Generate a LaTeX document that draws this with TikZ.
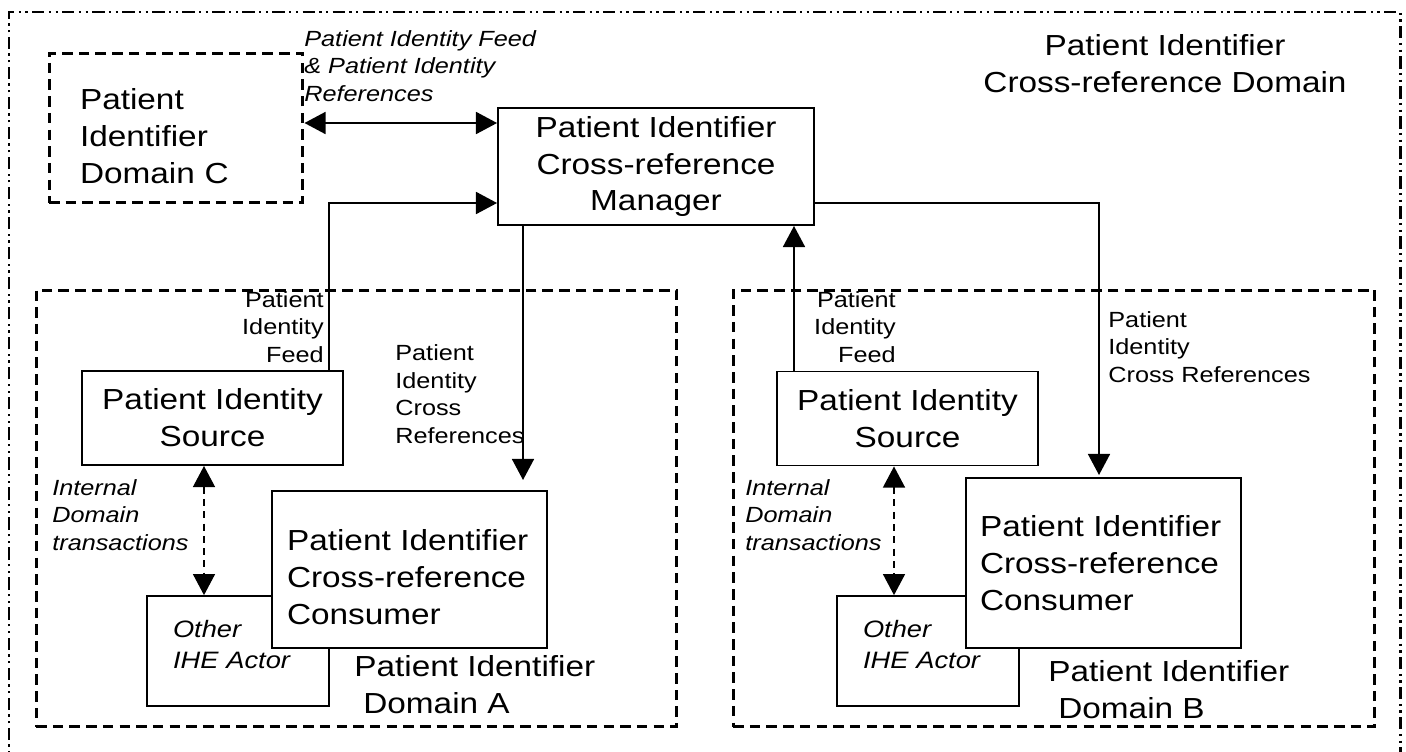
\documentclass[tikz,border=0pt]{standalone}
\usepackage{fontspec}
\setmainfont{Liberation Sans}[FakeStretch=1.15]
\usetikzlibrary{arrows.meta}
\newcommand\bigfont{\fontsize{16.5}{21}\selectfont}
\newcommand\midfont{\fontsize{13.5}{17.6}\selectfont}
\newcommand\smallfont{\fontsize{12.5}{15.6}\selectfont}
\tikzset{%
	box/.style       = {draw, line width=1.1pt, rectangle, fill=white, font=\bigfont, inner sep=0pt},
	actor/.style     = {draw, line width=1pt, rectangle, fill=white, font=\midfont\itshape,
		inner ysep=0pt, inner xsep=0.52cm, text width=2.6cm, align=left, text depth=0.9cm},
	pidbox/.style    = {draw, line width=1.7pt, dash pattern=on 6pt off 3.5pt, rectangle, inner sep=0pt},
	xrefframe/.style = {line width=1.7pt, dash pattern=on 7pt off 2.5pt on 1.3pt off 2.5pt on 1.3pt off 2.5pt},
	txt/.style       = {inner sep=0pt, font=\smallfont},
	conn/.style      = {line width=1.1pt, -{Triangle[length=12pt,width=12.5pt]}},
	twoway/.style    = {line width=1.1pt, {Triangle[length=12pt,width=12.5pt]}-{Triangle[length=12pt,width=12.5pt]}}
}
\begin{document}
\begin{tikzpicture}[x=0.02cm,y=-0.02cm]
	\clip (0,0) rectangle (1406,751);
	\draw[xrefframe] (9,770) -- (9,12) -- (1400,12) -- (1400,770);
	\node[txt, font=\bigfont, align=center, anchor=base] (xreflbl) at (1165,92) {Patient Identifier\\Cross-reference Domain};

	% domains
	\node[pidbox, minimum width=12.82cm, minimum height=8.74cm] (domA) at (356.5,508.5) {};
	\node[pidbox, minimum width=12.84cm, minimum height=8.74cm] (domB) at (1054,508.5) {};
	\node[pidbox, font=\bigfont, minimum width=5.08cm, minimum height=3cm, inner xsep=0.62cm,
		text width=3.84cm, align=left, text height=0.74cm] (domC) at (176,128) {Patient\\Identifier\\Domain C};
	\node[txt, font=\bigfont, align=left, anchor=base west] (domAlbl) at (354,713) {Patient Identifier\\\hspace*{0.18cm}Domain A};
	\node[txt, font=\bigfont, align=left, anchor=base west] (domBlbl) at (1048,718) {Patient Identifier\\\hspace*{0.2cm}Domain B};

	% actors
	\node[box, minimum width=6.32cm, minimum height=2.34cm, align=center] (mgr) at (656,166.5) {Patient Identifier\\Cross-reference\\Manager};
	\node[box, minimum width=5.22cm, minimum height=1.88cm, align=center] (srcA) at (212.5,418) {Patient Identity\\Source};
	\node[box, minimum width=5.22cm, minimum height=1.88cm, align=center] (srcB) at (907.5,418.5) {Patient Identity\\Source};
	\node[actor, minimum width=3.64cm, minimum height=2.2cm] (othA) at (238,651) {Other\\IHE Actor};
	\node[actor, minimum width=3.64cm, minimum height=2.2cm] (othB) at (928,651) {Other\\IHE Actor};
	\node[box, minimum width=5.5cm, minimum height=3.14cm, inner xsep=0.3cm, text width=4.9cm, align=left,
		text height=0.74cm] (consA) at (409.5,569.5) {Patient Identifier\\Cross-reference\\Consumer};
	\node[box, minimum width=5.5cm, minimum height=3.4cm, inner xsep=0.28cm, text width=4.94cm, align=left] (consB) at (1103.5,563) {Patient Identifier\\Cross-reference\\Consumer};

	% transaction labels
	\node[txt, font=\smallfont\itshape, align=left, anchor=base west] (feedClbl) at (304,101) {Patient Identity Feed\\\& Patient Identity\\References};
	\node[txt, align=right, anchor=base east] (feedAlbl) at (324,362) {Patient\\Identity\\Feed};
	\node[txt, align=left, anchor=base west] (xrefAlbl) at (395,443) {Patient\\Identity\\Cross\\References};
	\node[txt, font=\smallfont\itshape, align=left, anchor=base west] (intAlbl) at (52,550) {Internal\\Domain\\transactions};
	\node[txt, align=right, anchor=base east] (feedBlbl) at (896,362) {Patient\\Identity\\Feed};
	\node[txt, align=left, anchor=base west] (xrefBlbl) at (1108,382) {Patient\\Identity\\Cross References};
	\node[txt, font=\smallfont\itshape, align=left, anchor=base west] (intBlbl) at (745,550) {Internal\\Domain\\transactions};

	% transactions
	\coordinate (linkC) at (400,123);
	\coordinate (feedA) at (329,203);
	\coordinate (tipA) at (523,480);
	\coordinate (feedB) at (794,300);
	\coordinate (bendB) at (1099,203);
	\coordinate (tipB) at (1099,475);
	\coordinate (intA) at (204,530);
	\coordinate (intB) at (894,530);
	\draw[twoway] (domC.east |- linkC) -- (mgr.west |- linkC);
	\draw[conn] (srcA.north -| feedA) -- (feedA) -- (mgr.west |- feedA);
	\draw[conn] (mgr.south -| tipA) -- (tipA);
	\draw[conn] (srcB.north -| feedB) -- (mgr.south -| feedB);
	\draw[conn] (mgr.east |- bendB) -- (bendB) -- (tipB);
	\draw[twoway, line width=0.9pt, dash pattern=on 4pt off 3pt] (srcA.south -| intA) -- (othA.north -| intA);
	\draw[twoway, line width=0.9pt, dash pattern=on 4pt off 3pt] (srcB.south -| intB) -- (othB.north -| intB);
\end{tikzpicture}
\end{document}
